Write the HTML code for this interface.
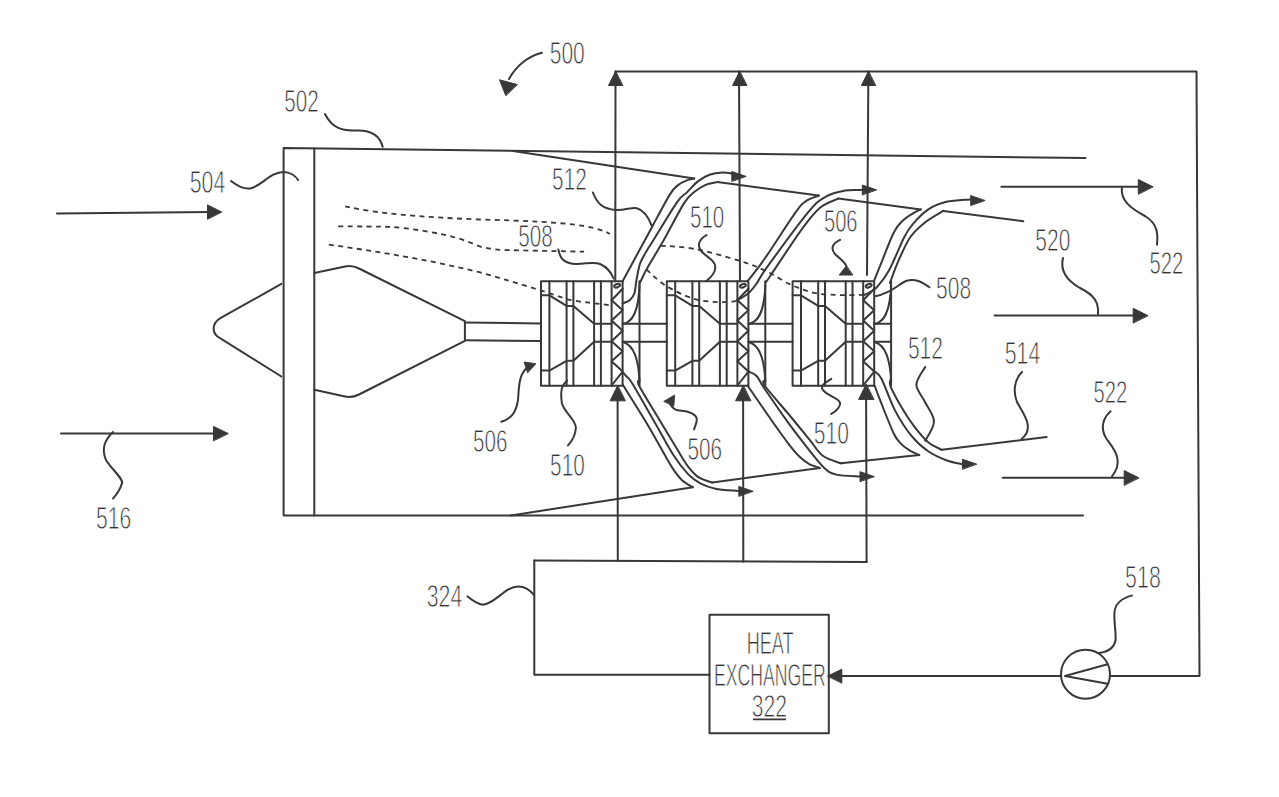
<!DOCTYPE html>
<html><head><meta charset="utf-8"><style>
html,body{margin:0;padding:0;background:#fff;}
svg{display:block;}
</style></head><body>
<svg width="1279" height="797" viewBox="0 0 1279 797">
<rect width="1279" height="797" fill="#fff"/>
<g fill="none" stroke="#383838" stroke-width="2.0" stroke-linecap="round" stroke-linejoin="round">
<style>.f{fill:#383838;stroke:#383838;stroke-width:1} .d{stroke-dasharray:5 4.4;stroke-linecap:butt;stroke-width:1.8}</style>
<path d="M1085.5,158 L283.6,148 L283.6,515.5 L1083,515.5" />
<line x1="314.3" y1="148.4" x2="314.3" y2="515.5" />
<path d="M281.4,283.9 L220.8,317.9 Q213.6,322 213.6,328.8 Q213.6,335 220.8,338.7 L281.4,376.5" />
<path d="M314.3,273 L345,266.5 Q352,265 359,268.5 L464.9,321.1 L464.9,340.8 L359,394.5 Q352,398 345,396.5 L314.3,389.7" />
<line x1="464.9" y1="322.5" x2="541" y2="323.5" />
<line x1="464.9" y1="340.3" x2="541" y2="341" />
<line x1="513" y1="151" x2="694.2" y2="178.6" />
<line x1="717.3" y1="182.1" x2="818.8" y2="195.6" />
<line x1="838.4" y1="198.6" x2="920.8" y2="209.4" />
<line x1="943.3" y1="210.9" x2="1023.3" y2="221.3" />
<line x1="510.8" y1="515.5" x2="692.8" y2="487.2" />
<line x1="712.4" y1="482.6" x2="819.8" y2="467.9" />
<line x1="840.9" y1="463.3" x2="919.2" y2="455.1" />
<line x1="941.8" y1="449.8" x2="1046.6" y2="436.9" />
<rect x="541.0" y="281.2" width="81.6" height="104.60000000000002"/>
<line x1="549.4" y1="281.2" x2="549.4" y2="385.8" />
<line x1="566.6" y1="281.2" x2="566.6" y2="385.8" />
<line x1="573.4" y1="281.2" x2="573.4" y2="385.8" />
<line x1="594.1" y1="281.2" x2="594.1" y2="385.8" />
<line x1="600.9" y1="281.2" x2="600.9" y2="385.8" />
<line x1="611.6" y1="281.2" x2="611.6" y2="385.8" />
<line x1="639.5" y1="281.2" x2="639.5" y2="385.8" />
<path d="M541.0,295.3 L549.4,295.3 L566.6,305.9 L573.4,305.9 L594.1,323.8 L611.6,323.8" />
<path d="M541.0,370.6 L549.4,370.6 L566.6,360.8 L573.4,360.8 L594.1,341.8 L611.6,341.8" />
<path d="M622.6,288.8 L611.6,300.3 L622.6,310.2 L611.6,320.4 L622.6,330.7 L611.6,341.2 L622.6,351.2 L611.6,361.2 L622.6,371.6 L611.6,385.5" />
<ellipse cx="617.1" cy="285.7" rx="3.1" ry="1.6" transform="rotate(-20 617.1 285.7)"/>
<line x1="622.6" y1="323.8" x2="639.5" y2="323.8" />
<line x1="622.6" y1="341.8" x2="639.5" y2="341.8" />
<path d="M623.6,323.8 C631.6,321.8 638.5,313.8 639.5,285.2" />
<path d="M623.6,342.3 C631.6,344.8 638.5,353.8 639.5,381.8" />
<line x1="639.5" y1="323.8" x2="666.8" y2="323.8" />
<line x1="639.5" y1="341.8" x2="666.8" y2="341.8" />
<rect x="666.8" y="281.2" width="81.6" height="104.60000000000002"/>
<line x1="675.2" y1="281.2" x2="675.2" y2="385.8" />
<line x1="692.4" y1="281.2" x2="692.4" y2="385.8" />
<line x1="699.2" y1="281.2" x2="699.2" y2="385.8" />
<line x1="719.9" y1="281.2" x2="719.9" y2="385.8" />
<line x1="726.7" y1="281.2" x2="726.7" y2="385.8" />
<line x1="737.4" y1="281.2" x2="737.4" y2="385.8" />
<line x1="765.3" y1="281.2" x2="765.3" y2="385.8" />
<path d="M666.8,295.3 L675.1999999999999,295.3 L692.4,305.9 L699.1999999999999,305.9 L719.9,323.8 L737.4,323.8" />
<path d="M666.8,370.6 L675.1999999999999,370.6 L692.4,360.8 L699.1999999999999,360.8 L719.9,341.8 L737.4,341.8" />
<path d="M748.4,288.8 L737.4,300.3 L748.4,310.2 L737.4,320.4 L748.4,330.7 L737.4,341.2 L748.4,351.2 L737.4,361.2 L748.4,371.6 L737.4,385.5" />
<ellipse cx="742.9" cy="285.7" rx="3.1" ry="1.6" transform="rotate(-20 742.9 285.7)"/>
<line x1="748.4" y1="323.8" x2="765.3" y2="323.8" />
<line x1="748.4" y1="341.8" x2="765.3" y2="341.8" />
<path d="M749.4,323.8 C757.4,321.8 764.3,313.8 765.3,285.2" />
<path d="M749.4,342.3 C757.4,344.8 764.3,353.8 765.3,381.8" />
<line x1="765.3" y1="323.8" x2="792.6" y2="323.8" />
<line x1="765.3" y1="341.8" x2="792.6" y2="341.8" />
<rect x="792.6" y="281.2" width="81.6" height="104.60000000000002"/>
<line x1="801.0" y1="281.2" x2="801.0" y2="385.8" />
<line x1="818.2" y1="281.2" x2="818.2" y2="385.8" />
<line x1="825.0" y1="281.2" x2="825.0" y2="385.8" />
<line x1="845.7" y1="281.2" x2="845.7" y2="385.8" />
<line x1="852.5" y1="281.2" x2="852.5" y2="385.8" />
<line x1="863.2" y1="281.2" x2="863.2" y2="385.8" />
<line x1="891.1" y1="281.2" x2="891.1" y2="385.8" />
<path d="M792.6,295.3 L801.0,295.3 L818.2,305.9 L825.0,305.9 L845.7,323.8 L863.2,323.8" />
<path d="M792.6,370.6 L801.0,370.6 L818.2,360.8 L825.0,360.8 L845.7,341.8 L863.2,341.8" />
<path d="M874.2,288.8 L863.2,300.3 L874.2,310.2 L863.2,320.4 L874.2,330.7 L863.2,341.2 L874.2,351.2 L863.2,361.2 L874.2,371.6 L863.2,385.5" />
<ellipse cx="868.7" cy="285.7" rx="3.1" ry="1.6" transform="rotate(-20 868.7 285.7)"/>
<line x1="874.2" y1="323.8" x2="891.1" y2="323.8" />
<line x1="874.2" y1="341.8" x2="891.1" y2="341.8" />
<path d="M875.2,323.8 C883.2,321.8 890.1,313.8 891.1,285.2" />
<path d="M875.2,342.3 C883.2,344.8 890.1,353.8 891.1,381.8" />
<path d="M622.6,281.2 C626.3,274.3 639.9,249.3 645.0,240.0 C650.1,230.7 648.8,232.8 653.0,225.2 C657.2,217.5 665.9,200.8 670.1,194.1 C674.3,187.4 675.4,187.3 678.1,185.1 C680.8,182.8 683.5,181.7 686.2,180.6 C688.9,179.5 692.9,178.9 694.2,178.6" />
<path d="M622.7,303.4 C623.9,302.8 628.0,301.7 630.0,300.0 C632.0,298.3 633.4,296.3 634.5,293.0 C635.6,289.7 635.5,285.0 636.5,280.0 C637.5,275.0 638.4,268.2 640.2,263.2 C642.0,258.2 645.0,254.0 647.2,250.1 C649.4,246.2 648.5,248.0 653.5,240.0 C658.5,232.0 671.5,210.1 677.1,202.1 C682.7,194.1 683.7,195.6 687.2,192.1 C690.7,188.6 694.4,184.0 698.2,181.1 C702.0,178.2 706.2,175.9 710.2,174.5 C714.2,173.1 718.7,172.7 722.3,172.5 C725.9,172.3 730.4,173.3 732.0,173.5" />
<polygon points="745.8,176.3 731.8,171.5 731.8,181.10000000000002" class="f"/>
<path d="M639.8,283.0 C640.4,281.8 642.0,278.5 643.2,276.0 C644.4,273.5 643.8,274.2 647.2,268.2 C650.6,262.2 657.6,250.8 663.8,240.0 C669.9,229.2 679.0,211.1 684.1,203.1 C689.2,195.1 690.7,195.1 694.2,192.1 C697.7,189.1 701.4,186.8 705.2,185.1 C709.1,183.4 715.3,182.6 717.3,182.1" />
<path d="M747.6,281.2 C750.4,277.5 756.8,270.1 764.6,258.8 C772.5,247.6 787.9,223.2 794.7,213.7 C801.5,204.2 801.3,204.6 805.3,201.6 C809.3,198.6 816.5,196.6 818.8,195.6" />
<path d="M737.2,300.3 C739.0,299.2 744.7,296.5 747.9,293.8 C751.1,291.1 753.0,288.6 756.3,284.0 C759.6,279.4 758.9,278.4 767.6,266.4 C776.3,254.4 798.5,223.9 808.3,212.2 C818.1,200.5 820.3,199.9 826.4,196.3 C832.5,192.7 839.1,191.6 845.0,190.5 C850.9,189.4 859.2,190.1 862.0,190.0" />
<polygon points="876.3,189.8 862.3,185.0 862.3,194.60000000000002" class="f"/>
<path d="M765.4,283.0 C766.2,281.8 764.1,285.1 770.2,276.0 C776.4,266.9 793.9,240.1 802.3,228.7 C810.6,217.3 814.3,212.6 820.3,207.6 C826.3,202.6 835.4,200.1 838.4,198.6" />
<path d="M874.1,280.9 C875.1,278.4 876.8,273.8 880.1,265.8 C883.4,257.8 889.9,240.2 893.7,232.7 C897.5,225.2 899.2,224.1 902.7,220.7 C906.2,217.3 911.7,214.3 914.7,212.4 C917.7,210.5 919.8,209.9 920.8,209.4" />
<path d="M863.5,295.3 C864.6,294.8 867.7,293.4 870.0,292.0 C872.3,290.6 873.9,290.6 877.1,287.0 C880.3,283.4 884.6,278.6 889.1,270.3 C893.6,262.0 900.2,245.0 904.2,237.2 C908.2,229.4 909.2,228.3 913.2,223.7 C917.2,219.1 922.8,213.1 928.3,209.4 C933.8,205.8 939.4,203.5 946.4,201.8 C953.4,200.2 966.1,199.9 970.0,199.5" />
<polygon points="984.7,200.4 970.7,195.6 970.7,205.20000000000002" class="f"/>
<path d="M889.9,283.0 C890.3,281.8 891.1,279.6 892.5,276.0 C893.9,272.4 895.2,267.8 898.2,261.3 C901.2,254.8 905.7,243.7 910.2,237.2 C914.7,230.7 919.8,226.6 925.3,222.2 C930.8,217.8 940.3,212.8 943.3,210.9" />
<path d="M622.8,384.8 C626.9,391.4 640.2,412.3 647.6,424.7 C655.0,437.1 662.7,451.5 667.2,459.3 C671.7,467.1 672.2,467.9 674.7,471.4 C677.2,474.9 679.3,477.8 682.3,480.4 C685.3,483.0 691.0,486.1 692.8,487.2" />
<path d="M622.9,372.5 C623.5,373.2 625.0,374.6 626.6,376.5 C628.2,378.4 627.8,376.2 632.6,384.0 C637.4,391.8 648.4,411.4 655.2,423.2 C662.0,435.0 667.7,446.3 673.2,454.8 C678.7,463.3 683.8,469.6 688.3,474.4 C692.8,479.2 695.8,481.0 700.3,483.4 C704.8,485.8 709.1,487.4 715.4,488.7 C721.7,490.0 734.2,490.6 738.0,491.0" />
<polygon points="752.8,491.2 738.8,486.4 738.8,496.0" class="f"/>
<path d="M639.4,380.0 C639.4,381.1 636.0,379.6 639.4,386.3 C642.8,393.0 653.3,409.5 659.7,420.2 C666.1,430.9 673.0,442.5 677.8,450.3 C682.6,458.1 684.8,462.3 688.3,466.8 C691.8,471.3 694.8,474.8 698.8,477.4 C702.8,480.0 710.1,481.7 712.4,482.6" />
<path d="M747.5,385.5 C751.3,390.9 763.1,408.2 770.1,418.2 C777.1,428.2 784.7,438.8 789.7,445.3 C794.7,451.8 796.9,454.2 800.2,457.3 C803.5,460.4 806.0,462.3 809.3,464.1 C812.6,465.9 818.0,467.3 819.8,467.9" />
<path d="M748.7,371.5 C750.0,372.2 754.0,373.2 756.6,376.0 C759.2,378.8 758.8,380.2 764.1,388.0 C769.4,395.8 780.9,412.6 788.2,422.7 C795.5,432.8 801.8,440.8 807.8,448.3 C813.8,455.8 819.5,463.5 824.3,467.9 C829.1,472.3 830.4,473.2 836.4,474.6 C842.4,476.0 856.1,476.2 860.0,476.5" />
<polygon points="874,476.5 860,471.7 860,481.3" class="f"/>
<path d="M765.0,380.0 C765.0,381.0 760.9,380.2 764.8,385.8 C768.7,391.4 780.8,404.8 788.2,413.7 C795.6,422.6 803.5,432.3 809.3,439.3 C815.1,446.3 817.5,451.8 822.8,455.8 C828.1,459.8 837.9,462.1 840.9,463.3" />
<path d="M874.6,385.5 C875.5,387.9 876.9,392.2 880.1,400.1 C883.3,408.1 890.1,425.9 893.6,433.2 C897.1,440.5 898.6,441.0 901.1,443.8 C903.6,446.6 905.7,447.9 908.7,449.8 C911.7,451.7 917.5,454.2 919.2,455.1" />
<path d="M874.8,371.6 C875.9,372.8 878.2,372.5 881.6,379.0 C885.0,385.5 890.1,401.1 895.1,410.6 C900.1,420.1 906.2,429.4 911.7,436.2 C917.2,443.0 922.4,447.3 928.2,451.3 C934.0,455.3 940.8,458.2 946.3,460.3 C951.8,462.4 958.9,463.5 961.4,464.1" />
<polygon points="976.4,464.1 962.4,459.3 962.4,468.90000000000003" class="f"/>
<path d="M890.4,380.0 C890.4,381.1 888.6,381.8 890.6,386.6 C892.6,391.5 898.6,402.3 902.6,409.1 C906.6,415.9 910.4,421.7 914.7,427.2 C919.0,432.7 923.7,438.5 928.2,442.3 C932.7,446.1 939.5,448.6 941.8,449.8" />
<path d="M345.1,206.3 C380,214 420,217 479.3,219.5 C520,220.5 560,222 586.6,226.4 C598,229 605,231 609.9,233.9" class="d"/>
<path d="M338.2,226.4 C360,226.4 380,226.6 389,226.8 C410,228 440,233 458,238.3 C470,242 478,246 481.9,247.1 C495,250 505,250.2 511.4,250.2 L584.1,251.7" class="d"/>
<path d="M328.8,244.6 C380,252 430,260 479.3,272.2 C500,278 520,284 536.5,289.1 C550,293 560,297 567.6,299.4 C575,301 582,302 587.2,302.4 L611.7,305.4" class="d"/>
<path d="M660.7,245.7 C666.2,246.2 680.9,246.3 694.0,248.8 C707.1,251.3 727.2,257.0 739.1,260.7 C751.0,264.4 756.7,266.7 765.5,270.8 C774.3,274.9 783.6,281.5 792.0,285.2 C800.4,288.9 807.7,291.6 815.7,293.2 C823.7,294.8 832.1,294.7 840.0,295.0 C847.9,295.3 859.4,294.9 863.3,294.9" class="d"/>
<path d="M646.5,269.5 C649.6,272.1 657.4,280.4 665.1,285.2 C672.8,290.0 683.9,295.6 692.7,298.4 C701.5,301.2 710.4,301.7 717.8,302.1 C725.2,302.5 733.8,301.2 737.0,301.0" class="d"/>
<line x1="615.5" y1="71.5" x2="615.3" y2="281.2" />
<line x1="617.6" y1="390" x2="617.8" y2="560.6" />
<line x1="739.0" y1="71.5" x2="740.0" y2="281.2" />
<line x1="743.1" y1="390" x2="743.3" y2="561.4" />
<line x1="868.4" y1="71.5" x2="867.0" y2="275" />
<line x1="866.1" y1="390" x2="866.6" y2="562" />
<polygon points="615.5,71.5 608.5,85.5 622.5,85.5" class="f"/>
<polygon points="739.6,71.5 732.6,85.5 746.6,85.5" class="f"/>
<polygon points="868.4,71.5 861.4,85.5 875.4,85.5" class="f"/>
<polygon points="617.6,385.8 610.1,400.8 625.1,400.8" class="f"/>
<polygon points="743.1,385.8 735.6,400.8 750.6,400.8" class="f"/>
<polygon points="866.1,384.4 858.6,399.4 873.6,399.4" class="f"/>
<path d="M615.5,71.5 L1196.5,71.5 L1199.5,676 L1110,676" />
<path d="M534.3,560.6 L866.6,562" />
<path d="M534.3,560.6 L534.3,674.7 L709.5,674.7" />
<rect x="709.5" y="614.7" width="119.3" height="118.5"/>
<line x1="842" y1="676" x2="1061" y2="676" />
<polygon points="827.8,676 841.8,669.2 841.8,682.8" class="f"/>
<circle cx="1085.5" cy="674.2" r="24.5"/>
<path d="M1107.6,664.2 L1065,676 L1107.6,683.7" />
<line x1="57" y1="213.5" x2="210" y2="212" />
<polygon points="221.5,211.9 207.5,204.9 207.5,218.9" class="f"/>
<line x1="61" y1="433.4" x2="214" y2="433.4" />
<polygon points="228,433.4 213.5,426.4 213.5,440.4" class="f"/>
<line x1="1001.4" y1="186.7" x2="1140" y2="186.7" />
<polygon points="1152.8,186.7 1138.3,179.5 1138.3,193.89999999999998" class="f"/>
<line x1="994.6" y1="315.5" x2="1135" y2="315.5" />
<polygon points="1147.7,315.5 1133.2,308.3 1133.2,322.7" class="f"/>
<line x1="1002.7" y1="477.8" x2="1126" y2="477.8" />
<polygon points="1138.7,477.8 1124.2,470.6 1124.2,485.0" class="f"/>
<path d="M325,114 C332,128 342,131 355,130.5 C372,129.5 380,136 382.7,146.8" />
<path d="M231,181 C240,188 246,189 250,188.5 C262,186 270,172 283.6,172 C290,172 296,176 298,180" />
<path d="M542,52.7 C528,56 516,66 509,79" />
<polygon points="505.7,95.4 499.5,79.8 517,84.5" class="f"/>
<path d="M592.9,192.5 C597,203 602,209 615.8,210 C625,210.5 632,207 636.9,208.3 C643,210 648,216 651.8,225.9" />
<path d="M558.4,249.6 C560,258 563,263 575,264 C585,264.5 593,261 600,264 C607,267 611,272 613.6,278.5" />
<path d="M706.5,235 C700,239 697.5,244 700,249 C703,256 716,259 715.3,268 C715,274 710,278 706.5,281" />
<path d="M840.1,239.9 C833,243 830,248 835,254 C840,259 845,262 846.3,266" />
<polygon points="846.3,266 839.2,275 852.4,275" class="f"/>
<path d="M929.4,287.3 C922,282 915,278 906,281 C898,284 894,292 875.3,296.3" />
<path d="M1063,258 C1060,270 1066,280 1080,288 C1094,295 1099,302 1098,314" />
<path d="M1122,187 C1120,200 1130,208 1145,216 C1158,224 1158,234 1157,244.7" />
<path d="M1110.6,411.3 C1103,418 1100,428 1106,438 C1113,448 1125,460 1111.9,476.5" />
<path d="M1022,372 C1014,380 1013,392 1017,402 C1022,412 1036,428 1021.5,439" />
<path d="M925.2,367.0 C923.7,369.9 916.4,378.8 916.4,384.6 C916.4,390.4 922.1,395.9 925.0,402.0 C927.9,408.1 934.0,415.0 934.0,421.5 C934.0,428.0 926.7,437.6 925.2,440.8" />
<path d="M670.2,404.6 C671.1,405.4 672.6,408.4 675.5,409.6 C678.4,410.8 684.4,410.7 687.8,411.8 C691.2,412.9 694.2,414.6 695.7,416.2 C697.2,417.8 696.9,419.3 696.6,421.5 C696.3,423.7 694.4,428.1 694.0,429.4" />
<polygon points="664.1,401.3 674.6,395.1 673.8,405.7" class="f"/>
<path d="M567.1,380.4 C562,385 560,390 561.9,403.2 C564,412 576,420 575.9,427.8 C575.5,436 572,441 568,445.4" />
<path d="M501.3,421.7 C510,419 516,414 518,400 C519,390 518,376 526.7,368.1" />
<polygon points="535.5,363.7 524.1,362 527.6,372.5" class="f"/>
<path d="M113,432 C105,440 101,448 106,460 C112,470 125,480 121.7,484 C120,490 117,494 113,498.6" />
<path d="M467.6,596.4 C472,600 477,604 483,604.7 C495,604 505,586.4 518.3,586.4 C525,586.4 530,590 533.9,595" />
<path d="M1132,595.6 C1122,598 1115,604 1114.4,612.7 C1114,622 1116,632 1115.6,640.3 C1114,648 1108,652 1099.3,652.9" />
<path d="M831.3,378.8 C826,382 820,386 822.5,389.3 C826,396 840,398 840.1,403.4 C840,408 836,411 831.3,413.9" />
</g>
<g font-family="'Liberation Sans', sans-serif" font-size="31.5" fill="#333" stroke="#fff" stroke-width="0.85">
<text x="549.7" y="63.6" textLength="35.1" lengthAdjust="spacingAndGlyphs">500</text>
<text x="284.3" y="111.9" textLength="34.5" lengthAdjust="spacingAndGlyphs">502</text>
<text x="189.7" y="192.9" textLength="35.6" lengthAdjust="spacingAndGlyphs">504</text>
<text x="552.1" y="190.4" textLength="34.6" lengthAdjust="spacingAndGlyphs">512</text>
<text x="518.2" y="246.7" textLength="34.6" lengthAdjust="spacingAndGlyphs">508</text>
<text x="690.0" y="227.6" textLength="34.3" lengthAdjust="spacingAndGlyphs">510</text>
<text x="823.9" y="232.0" textLength="33.7" lengthAdjust="spacingAndGlyphs">506</text>
<text x="936.0" y="298.8" textLength="35.1" lengthAdjust="spacingAndGlyphs">508</text>
<text x="1035.3" y="250.6" textLength="35.0" lengthAdjust="spacingAndGlyphs">520</text>
<text x="1149.5" y="274.2" textLength="33.8" lengthAdjust="spacingAndGlyphs">522</text>
<text x="1004.7" y="363.5" textLength="35.6" lengthAdjust="spacingAndGlyphs">514</text>
<text x="907.9" y="359.0" textLength="35.1" lengthAdjust="spacingAndGlyphs">512</text>
<text x="1093.5" y="402.9" textLength="33.8" lengthAdjust="spacingAndGlyphs">522</text>
<text x="473.1" y="452.4" textLength="34.4" lengthAdjust="spacingAndGlyphs">506</text>
<text x="550.1" y="476.2" textLength="34.7" lengthAdjust="spacingAndGlyphs">510</text>
<text x="687.4" y="460.1" textLength="34.7" lengthAdjust="spacingAndGlyphs">506</text>
<text x="813.7" y="444.1" textLength="35.2" lengthAdjust="spacingAndGlyphs">510</text>
<text x="96.1" y="529.4" textLength="35.2" lengthAdjust="spacingAndGlyphs">516</text>
<text x="426.7" y="607.3" textLength="35.6" lengthAdjust="spacingAndGlyphs">324</text>
<text x="1125.1" y="587.9" textLength="35.7" lengthAdjust="spacingAndGlyphs">518</text>
<text x="746.7" y="653.8" textLength="47.0" lengthAdjust="spacingAndGlyphs">HEAT</text>
<text x="714.0" y="685.6" textLength="111.8" lengthAdjust="spacingAndGlyphs">EXCHANGER</text>
<text x="751.7" y="717.0" textLength="35.2" lengthAdjust="spacingAndGlyphs">322</text>
</g>
<line x1="753" y1="719.4" x2="786" y2="719.4" stroke="#383838" stroke-width="1.6"/>
</svg>
</body></html>
